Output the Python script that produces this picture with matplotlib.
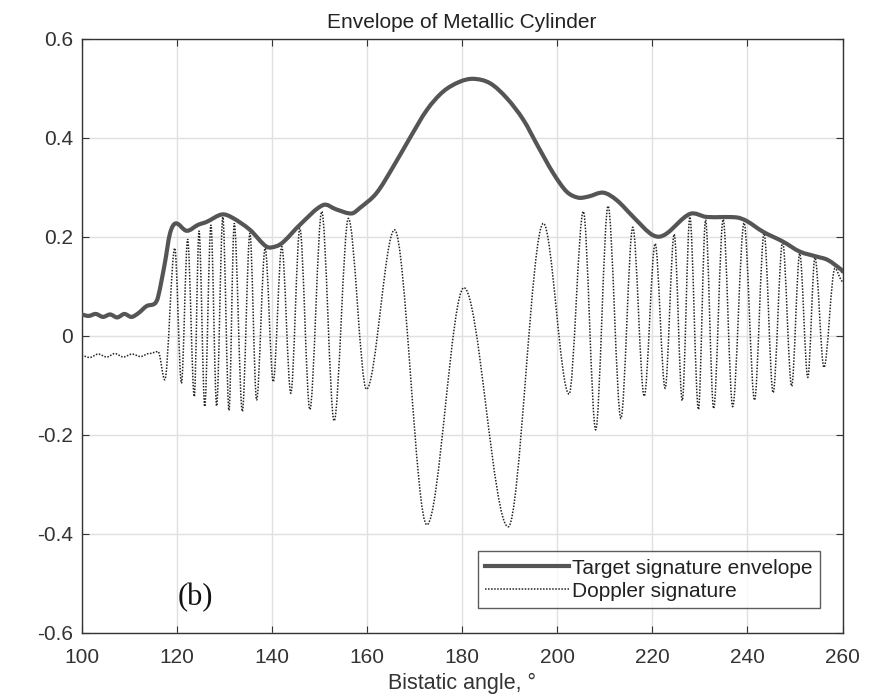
import matplotlib
matplotlib.use("Agg")
import matplotlib.pyplot as plt
from matplotlib.path import Path
from matplotlib.patches import PathPatch
from matplotlib.lines import Line2D

# Target signature envelope
env_x = [100, 101.5, 103, 104.5, 106, 107.5, 109, 110.5, 112, 113.7, 115.4, 116.1, 117.5, 118.6, 119.8,
         122.1, 124.5, 126.3, 129.5, 131.6, 135.4, 138.9, 141.0, 142.5, 145.9, 150.8, 153.6, 156.8,
         158.5, 162.0, 165.5, 169.0, 172.6, 176.0, 179.5, 182.4, 185.9, 189.4, 192.9, 196.0, 199.2,
         202.0, 204.4, 206.5, 209.7,
         212.5, 216.0, 219.5, 221.3, 223.1, 227.9, 231.4, 237.7, 239.8, 243.3, 247.5, 251.0,
         254.5, 256.9, 259.8, 260]
env_y = [0.043, 0.040, 0.044, 0.038, 0.043, 0.037, 0.044, 0.038, 0.046, 0.060, 0.065, 0.079, 0.146, 0.207, 0.227,
         0.212, 0.224, 0.230, 0.245, 0.239, 0.214, 0.180, 0.181, 0.190, 0.224, 0.264, 0.255, 0.247,
         0.258, 0.288, 0.341, 0.399, 0.456, 0.493, 0.513, 0.519, 0.510, 0.480, 0.436, 0.382, 0.328,
         0.291, 0.279, 0.281, 0.289,
         0.274, 0.240, 0.207, 0.200, 0.207, 0.246, 0.240, 0.239, 0.232, 0.210, 0.190, 0.170,
         0.160, 0.153, 0.133, 0.130]

# Doppler signature: successive extrema
dop_x = [100, 101.7, 103.5, 105.3, 107, 108.8, 110.6, 112.4, 114.2, 116.1, 117.5,
         119.6, 121.0, 122.3, 123.7, 124.7, 125.9, 127.2, 128.4, 129.7, 131.0, 132.1, 133.8,
         135.4, 136.8, 138.6, 140.3, 142.1, 144.0, 145.9, 148.0, 150.5, 153.1, 156.1, 159.9,
         165.8, 172.6, 180.4, 189.7, 197.1, 202.5,
         205.5, 208.1, 210.7, 213.4, 215.9, 218.3, 220.6, 222.7, 224.6, 226.3, 227.9, 229.7,
         231.2, 232.9, 234.9, 236.9, 239.3, 241.5, 243.5, 245.4, 247.4, 249.3, 251.0, 252.7,
         254.2, 256.1, 258.4, 260]
dop_y = [-0.040, -0.044, -0.037, -0.043, -0.036, -0.043, -0.037, -0.042, -0.036, -0.032, -0.089,
         0.177, -0.096, 0.195, -0.123, 0.212, -0.143, 0.224, -0.142, 0.240, -0.151, 0.227, -0.153,
         0.207, -0.130, 0.177, -0.093, 0.180, -0.116, 0.217, -0.149, 0.251, -0.172, 0.237, -0.108,
         0.214, -0.382, 0.097, -0.386, 0.227, -0.118,
         0.251, -0.190, 0.262, -0.167, 0.219, -0.122, 0.186, -0.106, 0.205, -0.131, 0.240, -0.149,
         0.234, -0.147, 0.235, -0.143, 0.228, -0.130, 0.207, -0.115, 0.190, -0.102, 0.166, -0.084,
         0.158, -0.064, 0.136, 0.110]

x_ticks = [100, 120, 140, 160, 180, 200, 220, 240, 260]
y_ticks = [-0.6, -0.4, -0.2, 0, 0.2, 0.4, 0.6]
y_labels = ["-0.6", "-0.4", "-0.2", "0", "0.2", "0.4", "0.6"]


def extrema_path(xs, ys):
    """Smooth path through successive extrema (flat tangent at each)."""
    verts = [(xs[0], ys[0])]
    codes = [Path.MOVETO]
    for i in range(len(xs) - 1):
        dx = xs[i + 1] - xs[i]
        verts += [(xs[i] + dx / 3, ys[i]), (xs[i + 1] - dx / 3, ys[i + 1]), (xs[i + 1], ys[i + 1])]
        codes += [Path.CURVE4] * 3
    return Path(verts, codes)


def smooth_path(xs, ys):
    """Smooth path through points (Hermite tangents rendered as Bezier)."""
    n = len(xs)
    m = []
    for i in range(n):
        a = max(i - 1, 0)
        b = min(i + 1, n - 1)
        m.append((ys[b] - ys[a]) / (xs[b] - xs[a]))
    verts = [(xs[0], ys[0])]
    codes = [Path.MOVETO]
    for i in range(n - 1):
        dx = xs[i + 1] - xs[i]
        verts += [(xs[i] + dx / 3, ys[i] + m[i] * dx / 3),
                  (xs[i + 1] - dx / 3, ys[i + 1] - m[i + 1] * dx / 3),
                  (xs[i + 1], ys[i + 1])]
        codes += [Path.CURVE4] * 3
    return Path(verts, codes)


plt.rcParams['font.family'] = ['Liberation Sans', 'DejaVu Sans']

fig = plt.figure(figsize=(8.77, 6.99), dpi=100)
ax = fig.add_axes([0.093, 0.0948, 0.8677, 0.8498])

env_color = "#555555"
dop_color = "#222222"
dop_style = (0, (1, 1))

ax.add_patch(PathPatch(smooth_path(env_x, env_y), fill=False, edgecolor=env_color,
                       linewidth=3.0, zorder=3, capstyle="round", joinstyle="round"))
ax.add_patch(PathPatch(extrema_path(dop_x, dop_y), fill=False, edgecolor=dop_color,
                       linewidth=1.1, linestyle=dop_style, zorder=2))

ax.set_xlim(100, 260)
ax.set_ylim(-0.6, 0.6)
ax.set_xticks(x_ticks)
ax.set_yticks(y_ticks)
ax.set_yticklabels(y_labels)
ax.grid(True, color="#e0e0e0", linewidth=1.0)
ax.set_axisbelow(True)
ax.tick_params(direction="in", top=True, right=True, length=5, labelsize=15, colors="#333333")
ax.tick_params(axis="x", pad=11)
ax.tick_params(axis="y", pad=6)
for s in ax.spines.values():
    s.set_color("#333333")
    s.set_linewidth(1.0)

ax.set_title("Envelope of Metallic Cylinder", fontsize=15, color="#222222", pad=8)
ax.set_xlabel("Bistatic angle, °", fontsize=15.5, color="#333333", labelpad=4)

ax.text(120.2, -0.545, "(b)", fontsize=22, family="Liberation Serif", color="#111111", va="baseline")

handles = [Line2D([], [], color=env_color, linewidth=3.0),
           Line2D([], [], color=dop_color, linewidth=1.1, linestyle=dop_style)]
leg = ax.legend(handles, ["Target signature envelope", "Doppler signature"],
                loc="lower right", bbox_to_anchor=(0.970, 0.0416), fontsize=15, frameon=True,
                fancybox=False, edgecolor="#333333", borderpad=0.35, labelspacing=0.2,
                handlelength=4.0, handletextpad=0.15, borderaxespad=0)
leg.get_frame().set_linewidth(1.0)
for t in leg.get_texts():
    t.set_color("#222222")

fig.savefig("out.png", dpi=100)
